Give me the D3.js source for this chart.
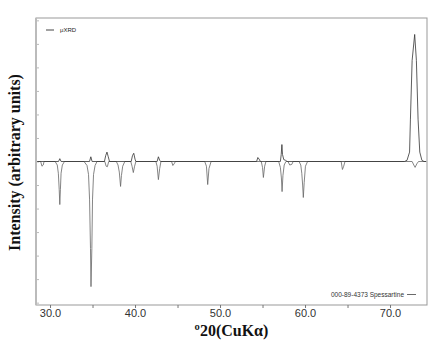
<!DOCTYPE html>
<html>
<head>
<meta charset="utf-8">
<script src="https://cdn.jsdelivr.net/npm/d3@7"></script>
<style>
  body { margin: 0; background: #fff; }
</style>
</head>
<body>
<div id="chart"></div>
<script>
// measured micro-XRD pattern (2theta, intensity)
const xrdPoints = [
  [28.5, 0], [31.0, 0], [31.15, 1.2], [31.3, 0], [34.65, 0], [34.8, 2], [34.95, 0],
  [36.4, 0], [36.55, 2.5], [36.7, 4], [36.85, 2], [37.0, 0],
  [39.55, 0], [39.7, 2.5], [39.85, 3.5], [40.0, 1], [40.1, 0],
  [42.6, 0], [42.75, 2], [42.9, 0.5], [43.0, 0],
  [54.3, 0], [54.45, 1.7], [54.6, 1], [54.75, 0],
  [57.1, 0], [57.2, 3], [57.28, 7.2], [57.35, 3], [57.5, 0.8], [57.7, 0.5], [57.9, 0],
  [71.7, 0], [72.0, 0.5], [72.3, 4], [72.4, 18], [72.6, 43], [72.9, 54],
  [73.1, 43], [73.3, 18], [73.5, 4], [73.75, 0.5], [74.0, 0], [74.25, 0]
];

// reference pattern 000-89-4373 Spessartine, drawn downward
const refPoints = [
  [28.5, 0], [28.9, 0], [29.05, -2], [29.2, -1.5], [29.3, 0],
  [30.6, 0], [30.85, -1.5], [30.98, -5], [31.08, -12], [31.15, -18.3], [31.22, -12], [31.3, -5], [31.45, -1.5], [31.7, 0],
  [34.0, 0], [34.35, -1.7], [34.53, -5.5], [34.65, -16], [34.76, -37], [34.82, -53.2],
  [34.92, -37], [35.0, -16], [35.12, -5.5], [35.3, -1.7], [35.53, 0],
  [36.45, 0], [36.6, -2], [36.75, -2.2], [36.9, 0],
  [37.8, 0], [38.0, -1.5], [38.15, -4.5], [38.3, -10.6], [38.4, -6], [38.55, -2], [38.8, 0],
  [39.5, 0], [39.65, -2], [39.8, -4.7], [39.95, -2], [40.1, 0],
  [42.45, 0], [42.6, -2], [42.75, -7.7], [42.9, -3], [43.05, 0],
  [44.3, 0], [44.45, -1.7], [44.6, -1], [44.75, 0],
  [48.2, 0], [48.4, -2], [48.55, -9.8], [48.7, -3], [48.95, 0],
  [54.85, 0], [55.0, -2.5], [55.1, -6.8], [55.25, -2], [55.4, 0],
  [56.9, 0], [57.1, -2.5], [57.22, -7], [57.3, -12.8], [57.4, -6], [57.55, -1.5], [57.75, 0],
  [58.0, 0], [58.2, -1.5], [58.45, -1.2], [58.6, 0],
  [59.3, 0], [59.5, -1.5], [59.62, -5], [59.72, -10], [59.8, -15.3], [59.9, -9], [60.05, -2], [60.3, 0],
  [64.25, 0], [64.4, -3.4], [64.55, -2], [64.7, 0],
  [72.6, 0], [72.8, -1.5], [72.95, -2.5], [73.15, -1], [73.35, 0], [74.25, 0]
];

const xTicks = [30, 35, 40, 45, 50, 55, 60, 65, 70];
const xLabelTicks = [30, 40, 50, 60, 70];
const yTicks = [-60, -50, -40, -30, -20, -10, 0, 10, 20, 30, 40, 50, 60];

const margin = { top: 18, right: 8, bottom: 40, left: 36 };
const W = 435, H = 345;
const width = W - margin.left - margin.right;
const height = H - margin.top - margin.bottom;

const svg = d3.select("#chart").append("svg")
  .attr("width", W)
  .attr("height", H);

const g = svg.append("g")
  .attr("transform", `translate(${margin.left},${margin.top})`);

const x = d3.scaleLinear().domain([28.35, 74.35]).range([0, width]);
const y = d3.scaleLinear().domain([-61, 61]).range([height, 0]);

// frame
g.append("rect")
  .attr("x", 0).attr("y", 0)
  .attr("width", width).attr("height", height)
  .attr("fill", "none")
  .attr("stroke", "#999")
  .attr("stroke-width", 1);

g.append("line")
  .attr("x1", 0).attr("x2", 0)
  .attr("y1", 0).attr("y2", height)
  .attr("stroke", "#bbb")
  .attr("stroke-width", 2);

// x axis
const xAxis = g.append("g")
  .attr("transform", `translate(0,${height})`)
  .call(d3.axisBottom(x).tickValues(xTicks).tickSize(3)
    .tickFormat(d => xLabelTicks.includes(d) ? d3.format(".1f")(d) : ""));
xAxis.select(".domain").remove();
xAxis.selectAll(".tick line").attr("stroke", "#777");
xAxis.selectAll(".tick text")
  .attr("font-family", "Liberation Sans, Arial, sans-serif")
  .attr("font-size", "11px")
  .attr("fill", "#333")
  .attr("dy", "0.55em");

// y axis: ticks only
const yAxis = g.append("g")
  .call(d3.axisRight(y).tickValues(yTicks).tickSize(3).tickFormat(""));
yAxis.select(".domain").remove();
yAxis.selectAll(".tick line").attr("stroke", "#bbb");

const line = d3.line()
  .x(d => x(d[0]))
  .y(d => y(d[1]));

g.append("path")
  .datum(refPoints)
  .attr("fill", "none")
  .attr("stroke", "#666")
  .attr("stroke-width", 0.8)
  .attr("d", line);

g.append("path")
  .datum(xrdPoints)
  .attr("fill", "none")
  .attr("stroke", "#333")
  .attr("stroke-width", 0.8)
  .attr("d", line);

// legends
const legendFont = "Liberation Sans, Arial, sans-serif";
g.append("line")
  .attr("x1", 10).attr("x2", 18)
  .attr("y1", 12).attr("y2", 12)
  .attr("stroke", "#444").attr("stroke-width", 1);
g.append("text")
  .attr("x", 24).attr("y", 14)
  .attr("font-family", legendFont)
  .attr("font-size", "6px")
  .attr("fill", "#222")
  .text("μXRD");

g.append("text")
  .attr("x", width - 23).attr("y", height - 8.5)
  .attr("text-anchor", "end")
  .attr("font-family", legendFont)
  .attr("font-size", "6.5px")
  .attr("fill", "#333")
  .text("000-89-4373 Spessartine");
g.append("line")
  .attr("x1", width - 20).attr("x2", width - 11)
  .attr("y1", height - 10.5).attr("y2", height - 10.5)
  .attr("stroke", "#444").attr("stroke-width", 0.8);

// axis titles
svg.append("text")
  .attr("x", margin.left + width / 2)
  .attr("y", 336)
  .attr("text-anchor", "middle")
  .attr("font-family", "Liberation Serif, Times New Roman, serif")
  .attr("font-weight", "bold")
  .attr("font-size", "16px")
  .attr("fill", "#111")
  .text("º20(CuKα)");

svg.append("text")
  .attr("transform", `translate(20,${margin.top + height / 2 + 1}) rotate(-90)`)
  .attr("text-anchor", "middle")
  .attr("font-family", "Liberation Serif, Times New Roman, serif")
  .attr("font-weight", "bold")
  .attr("font-size", "16px")
  .attr("fill", "#111")
  .text("Intensity (arbitrary units)");
</script>
</body>
</html>
